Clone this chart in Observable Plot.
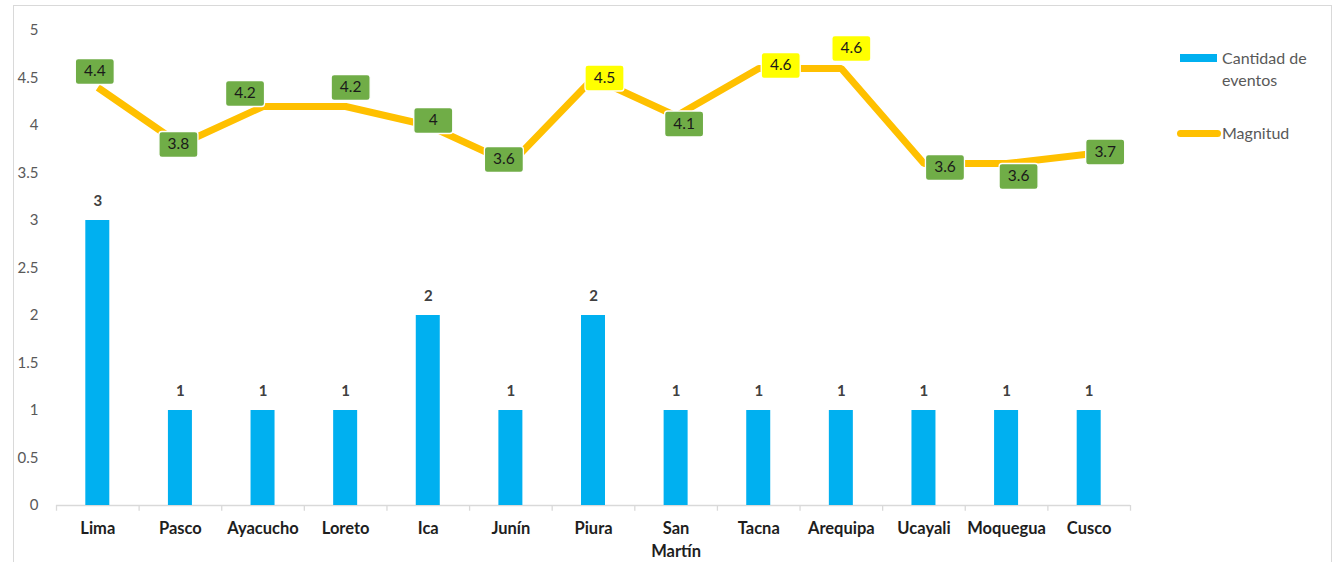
<!DOCTYPE html>
<html><head><meta charset="utf-8">
<script src="https://cdn.jsdelivr.net/npm/d3@7"></script>
<script src="https://cdn.jsdelivr.net/npm/@observablehq/plot@0.6"></script>
<style>
body{margin:0;background:#fff;font-family:Lato,"Open Sans",sans-serif;}
#wrap{position:relative;width:1340px;height:562px;overflow:hidden;background:#fff;}
#border{position:absolute;left:13px;top:5px;width:1319px;height:620px;border:1px solid #D9D9D9;box-sizing:border-box;pointer-events:none;}
#chart{position:absolute;left:0;top:0;}
.lg{position:absolute;font-size:16px;color:#595959;line-height:22px;}
</style>
</head><body>
<div id="wrap"><div id="chart"></div><div id="border"></div>
<div id="legend"></div>
</div>
<script>
const regions = ["Lima","Pasco","Ayacucho","Loreto","Ica","Junín","Piura","San Martín","Tacna","Arequipa","Ucayali","Moquegua","Cusco"];
const eventos = [3,1,1,1,2,1,2,1,1,1,1,1,1];
const magnitud = [4.4,3.8,4.2,4.2,4.0,3.6,4.5,4.1,4.6,4.6,3.6,3.6,3.7];
const yTicks = [0,0.5,1,1.5,2,2.5,3,3.5,4,4.5,5];
const seriesNames = ["Cantidad de eventos","Magnitud"];
// label nudges (px) relative to each point, as placed in the original
const labelOffsets = [[-3,-16],[-2,0],[-18,-13],[5,-19],[5,-5],[-7,-4],[11,0],[8,8],[22,-3],[10,-20],[21,4],[12,13],[16,-2]];

const data = regions.map((r,i)=>({region:r, eventos:eventos[i], magnitud:magnitud[i], i}));

const W = 1340, H = 562, ML = 56, MR = 210, MT = 30, MB = 57;
const bw = (W - ML - MR) / regions.length;
const barW = 24;
const gray = "#D9D9D9";

const boxSymbol = {draw(ctx){const w=19.5,h=13,r=3;
  ctx.moveTo(-w+r,-h); ctx.arcTo(w,-h,w,h,r); ctx.arcTo(w,h,-w,h,r); ctx.arcTo(-w,h,-w,-h,r); ctx.arcTo(-w,-h,w,-h,r); ctx.closePath();}};

const labelMarks = data.flatMap((d,i)=>{
  const [dx,dy] = labelOffsets[i];
  const fill = d.magnitud >= 4.5 ? "#FFFF00" : "#70AD47";
  return [
    Plot.dot([d], {x:"region", y:"magnitud", dx, dy, symbol: boxSymbol, r: 10, fill, stroke:"#fff", strokeWidth:1.3}),
    Plot.text([d], {x:"region", y:"magnitud", dx, dy, text: v=>String(v.magnitud), fill:"#1a1a1a", fontSize:15.5})
  ];
});

const chart = Plot.plot({
  width: W, height: H,
  marginLeft: ML, marginRight: MR, marginTop: MT, marginBottom: MB,
  style: {fontFamily: "Lato, 'Open Sans', sans-serif", background: "transparent"},
  x: {type:"band", domain: regions, padding: 0, round: false},
  y: {domain: [0,5]},
  marks: [
    Plot.axisY({ticks: yTicks, tickSize: 0, tickPadding: 18, fontSize: 15, color: "#595959", tickFormat: d=>String(d), label: null}),
    Plot.axisX({tickSize: 0, tickPadding: 13, fontSize: 16.5, fontWeight: "bold", color: "#1e1e1e", lineHeight: 1.35, tickFormat: d => d.replace(" ", "\n"), label: null}),
    Plot.ruleY([0], {stroke: gray, strokeWidth: 1.3}),
    Plot.ruleX(regions, {x: d=>d, y1: 0, y2: -0.06, dx: -bw/2, stroke: gray, strokeWidth: 1.3}),
    Plot.ruleX(regions.slice(-1), {x: d=>d, y1: 0, y2: -0.06, dx: bw/2, stroke: gray, strokeWidth: 1.3}),
    Plot.barY(data, {x:"region", y:"eventos", fill:"#00B0F0", insetLeft:(bw-barW)/2, insetRight:(bw-barW)/2}),
    Plot.text(data, {x:"region", y:"eventos", text: d=>String(d.eventos), dy:-19, fontSize:15, fontWeight:"bold", fill:"#404040"}),
    Plot.lineY(data, {x:"region", y:"magnitud", stroke:"#FFC000", strokeWidth:7, strokeLinejoin:"miter", strokeLinecap:"butt", curve:"linear"}),
    ...labelMarks
  ]
});
document.getElementById("chart").appendChild(chart);

const lg = document.getElementById("legend");
lg.innerHTML = `
<div style="position:absolute;left:1180px;top:54px;width:37px;height:8px;background:#00B0F0"></div>
<div class="lg" style="left:1222px;top:47px;">Cantidad de<br>eventos</div>
<div style="position:absolute;left:1177px;top:129.5px;width:44px;height:7px;border-radius:4px;background:#FFC000"></div>
<div class="lg" style="left:1222px;top:122px;">Magnitud</div>`;
</script>
</body></html>
